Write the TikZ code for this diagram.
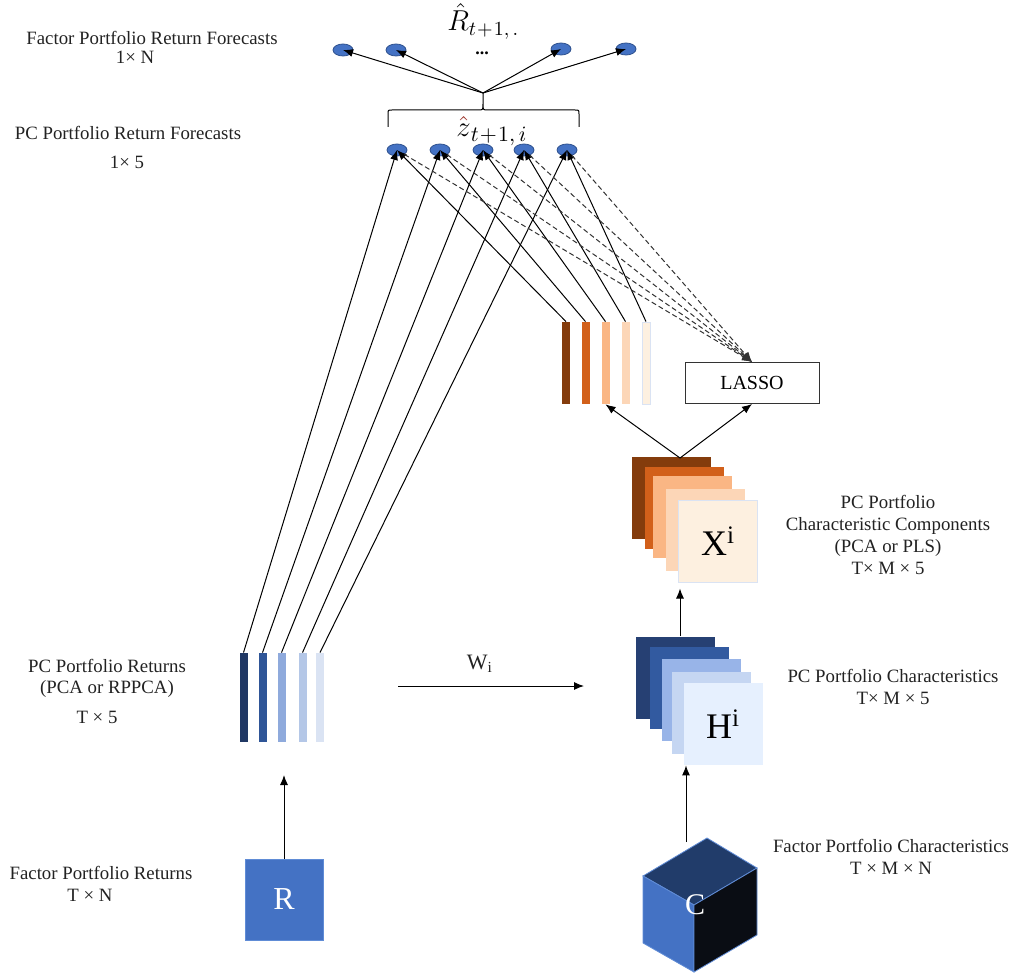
\documentclass[tikz,border=0pt]{standalone}
\usepackage{fontspec}
\setmainfont{Liberation Serif}
\usetikzlibrary{arrows.meta,shapes.geometric,positioning}
\definecolor{ptfblue}{RGB}{68,114,196}
\definecolor{ptfblueedge}{RGB}{47,82,143}
\definecolor{pcblue1}{RGB}{32,56,100}
\definecolor{pcblue2}{RGB}{47,85,151}
\definecolor{pcblue3}{RGB}{143,170,220}
\definecolor{pcblue4}{RGB}{180,199,231}
\definecolor{pcblue5}{RGB}{218,227,243}
\definecolor{hblue1}{RGB}{38,64,115}
\definecolor{hblue2}{RGB}{50,90,160}
\definecolor{hblue3}{RGB}{152,180,232}
\definecolor{hblue4}{RGB}{197,214,242}
\definecolor{hblue5}{RGB}{230,240,254}
\definecolor{pcorange1}{RGB}{132,60,12}
\definecolor{pcorange2}{RGB}{210,96,26}
\definecolor{pcorange3}{RGB}{250,182,132}
\definecolor{pcorange4}{RGB}{252,214,183}
\definecolor{pcorange5}{RGB}{253,240,224}
\definecolor{cubetop}{RGB}{33,60,106}
\definecolor{cubeside}{RGB}{10,13,20}
\definecolor{cubeedge}{RGB}{96,140,214}
\definecolor{hatred}{RGB}{150,40,30}
\definecolor{captiongrey}{RGB}{34,34,34}

\begin{document}
\begin{tikzpicture}[x=0.5pt, y=-0.5pt,
                    >={Latex[length=5pt,width=4pt]},
                    caption/.style = {
                      font=\fontsize{9.4}{11}\selectfont,
                      text=captiongrey, align=center, inner sep=0
                    },
                    fcst/.style = {
                      ellipse, minimum width=10pt, minimum height=6pt,
                      inner sep=0, fill=ptfblue, draw=ptfblueedge,
                      line width=0.4pt
                    },
                    pcbar/.style = {
                      rectangle, minimum width=4pt, minimum height=44.5pt,
                      inner sep=0
                    },
                    compbar/.style = {
                      rectangle, minimum width=4pt, minimum height=41pt,
                      inner sep=0
                    },
                    sheet/.style = {
                      rectangle, minimum width=39.5pt, minimum height=41pt,
                      inner sep=0, font=\fontsize{18}{20}\selectfont,
                      text=black
                    },
                    lassobox/.style = {
                      rectangle, minimum width=67pt, minimum height=20.5pt,
                      draw=black!80, line width=0.5pt, fill=white,
                      font=\fontsize{10}{12}\selectfont
                    },
                    rbox/.style = {
                      rectangle, minimum width=39pt, minimum height=40.5pt,
                      fill=ptfblue, draw=cubeedge, line width=0.4pt,
                      text=white, font=\fontsize{16}{18}\selectfont
                    },
                    flow/.style = {->, draw=black, line width=0.5pt},
                    screen/.style = {->, draw=black!80, line width=0.5pt,
                      dash pattern=on 2.5pt off 1.5pt}]
    \useasboundingbox (0,0) rectangle (1013,974);

    % captions on both sides
    \node[caption] (rfcaption) at (152,38) {Factor Portfolio Return Forecasts};
    \node[caption] (rfdim) at (135,57) {1× N};
    \node[caption] (zfcaption) at (128,133) {PC Portfolio Return Forecasts};
    \node[caption] (zfdim) at (127,162) {1× 5};
    \node[caption, font=\fontsize{9.4}{10.5}\selectfont] (pcretcaption) at (107,678)
      {PC Portfolio Returns\\(PCA or RPPCA)};
    \node[caption] (pcretdim) at (97,717) {T × 5};
    \node[caption] (fretcaption) at (101,873) {Factor Portfolio Returns};
    \node[caption] (fretdim) at (90,895) {T × N};
    \node[caption] (compcaption) at (888,535)
      {PC Portfolio\\Characteristic Components\\(PCA or PLS)\\T× M × 5};
    \node[caption] (charcaption) at (893,687)
      {PC Portfolio Characteristics\\T× M × 5};
    \node[caption] (fcharcaption) at (891,857)
      {Factor Portfolio Characteristics\\T × M × N};

    % forecasts
    \node[anchor=base west, inner sep=0, font=\fontsize{14}{16}\selectfont]
      (rhatlabel) at (447,31)
      {$\hat{R}_{\mbox{\fontsize{10}{12}\selectfont$t\mkern1mu{+}\mkern1mu1,.$}}$};
    \node[inner sep=0, font=\fontsize{9}{10}\selectfont\bfseries] (rdots) at (482,53) {...};
    \node[fcst] (rhat1) at (343,50) {};
    \node[fcst] (rhat2) at (396,50) {};
    \node[fcst] (rhat3) at (561,49) {};
    \node[fcst] (rhat4) at (626,49) {};

    \node[anchor=base west, inner sep=0, font=\fontsize{15}{17}\selectfont]
      (zhatlabel) at (456,137)
      {${\color{hatred}\hat{\color{black}z}}_{\mbox{\fontsize{10.5}{12}\selectfont$t\mkern1mu{+}\mkern1mu1,i$}}$};
    \node[fcst] (zhat1) at (397,150) {};
    \node[fcst] (zhat2) at (440,150) {};
    \node[fcst] (zhat3) at (483,150) {};
    \node[fcst] (zhat4) at (524,150) {};
    \node[fcst] (zhat5) at (567,150) {};

    % brace over the PC forecasts
    \draw[line width=0.5pt] (388,127) -- (388,114) .. controls (388,110) .. (392,110)
      -- (478,110) .. controls (483,110) .. (483,104) -- (483,93)
      (483,104) .. controls (483,110) .. (488,110) -- (575,110)
      .. controls (579,110) .. (579,114) -- (579,127);
    \coordinate (bracetip) at (483,93);

    % PC portfolio returns
    \node[pcbar, fill=pcblue1] (pcret1) at (243.5,697.5) {};
    \node[pcbar, fill=pcblue2] (pcret2) at (262.5,697.5) {};
    \node[pcbar, fill=pcblue3] (pcret3) at (281.5,697.5) {};
    \node[pcbar, fill=pcblue4] (pcret4) at (302.5,697.5) {};
    \node[pcbar, fill=pcblue5] (pcret5) at (320,697.5) {};

    % characteristic components
    \node[compbar, fill=pcorange1] (comp1) at (566,363) {};
    \node[compbar, fill=pcorange2] (comp2) at (585.5,363) {};
    \node[compbar, fill=pcorange3] (comp3) at (605.5,363) {};
    \node[compbar, fill=pcorange4] (comp4) at (625.5,363) {};
    \node[compbar, fill=pcorange5, draw=pcblue5, line width=0.4pt] (comp5) at (646,363) {};

    \node[lassobox] (lasso) at (752,383) {LASSO};

    % stacked sheets
    \node[sheet, fill=pcorange1] (xsheet1) at (671,498) {};
    \node[sheet, fill=pcorange2] (xsheet2) at (684,507.5) {};
    \node[sheet, fill=pcorange3] (xsheet3) at (692.5,516.5) {};
    \node[sheet, fill=pcorange4] (xsheet4) at (705.5,529.5) {};
    \node[sheet, fill=pcorange5, draw=pcblue5, line width=0.5pt] (xsheet5) at (718,541)
      {X\textsuperscript{i}};

    \node[sheet, fill=hblue1] (hsheet1) at (675.5,677.5) {};
    \node[sheet, fill=hblue2] (hsheet2) at (689,688) {};
    \node[sheet, fill=hblue3] (hsheet3) at (701.5,700) {};
    \node[sheet, fill=hblue4] (hsheet4) at (711.5,712.5) {};
    \node[sheet, fill=hblue5] (hsheet5) at (723,724) {H\textsuperscript{i}};

    % the C cube
    \filldraw[fill=cubetop, draw=cubeedge, line width=0.4pt]
      (707,838) -- (643,876) -- (694,905) -- (757,868) -- cycle;
    \filldraw[fill=ptfblue, draw=cubeedge, line width=0.4pt]
      (643,876) -- (694,905) -- (694,972) -- (643,943) -- cycle;
    \filldraw[fill=cubeside, draw=cubeedge, line width=0.4pt]
      (694,905) -- (757,868) -- (757,935) -- (694,972) -- cycle;
    \node[text=white, inner sep=0, font=\fontsize{15}{17}\selectfont] (clabel) at (695,905) {C};

    \node[rbox] (rbox) at (284,899.5) {R};

    \coordinate (xtop) at (680,458);
    \coordinate (htop) at (680,636);
    \coordinate (ctop) at (686,842);
    \coordinate (rtip) at (284,775);
    \coordinate (wstart) at (398,686);
    \coordinate (wend) at (584,686);
    \node[caption, font=\fontsize{11}{13}\selectfont] (wlabel) at (480,664) {W\textsubscript{i}};

    % connectors
    \draw[flow] (bracetip) -- (rhat1.center);
    \draw[flow] (bracetip) -- (rhat2.center);
    \draw[flow] (bracetip) -- (rhat3.center);
    \draw[flow] (bracetip) -- (rhat4.center);

    \draw[flow] (pcret1.north) -- (zhat1.center);
    \draw[flow] (pcret2.north) -- (zhat2.center);
    \draw[flow] (pcret3.north) -- (zhat3.center);
    \draw[flow] (pcret4.north) -- (zhat4.center);
    \draw[flow] (pcret5.north) -- (zhat5.center);

    \draw[flow] (comp1.north) -- (zhat1.center);
    \draw[flow] (comp2.north) -- (zhat2.center);
    \draw[flow] (comp3.north) -- (zhat3.center);
    \draw[flow] (comp4.north) -- (zhat4.center);
    \draw[flow] (comp5.north) -- (zhat5.center);

    \draw[screen] (zhat1) -- (lasso.north);
    \draw[screen] (zhat2) -- (lasso.north);
    \draw[screen] (zhat3) -- (lasso.north);
    \draw[screen] (zhat4) -- (lasso.north);
    \draw[screen] (zhat5) -- (lasso.north);

    \draw[flow] (xtop) -- (comp3.south);
    \draw[flow] (xtop) -- (lasso.south);
    \draw[flow] (htop) -- ([yshift=-3pt]htop |- xsheet5.south);
    \draw[flow] (ctop) -- (ctop |- hsheet5.south);
    \draw[flow] (rbox.north) -- (rtip);
    \draw[flow] (wstart) -- (wend);
\end{tikzpicture}
\end{document}
